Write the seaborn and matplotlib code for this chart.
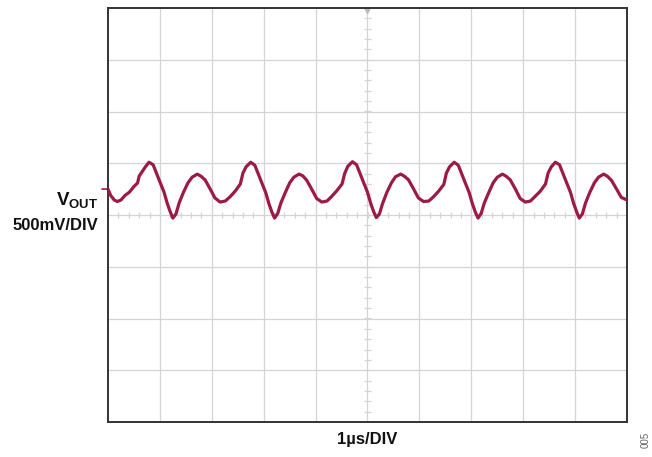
import numpy as np
import pandas as pd
import matplotlib
matplotlib.use("Agg")
import matplotlib.pyplot as plt
import seaborn as sns

# scope trace: time in divisions (1us/DIV), level in divisions (500mV/DIV)
time_div = [
    0.00, 0.05, 0.12, 0.18, 0.25, 0.33, 0.41, 0.50, 0.57, 0.60, 0.66, 0.72,
    0.79, 0.87, 1.00, 1.08, 1.14, 1.20, 1.25, 1.31, 1.37, 1.45, 1.54, 1.62,
    1.72, 1.79, 1.87, 1.97, 2.06, 2.16, 2.26, 2.35, 2.45, 2.55, 2.60, 2.66,
    2.75, 2.83, 2.96, 3.04, 3.10, 3.16, 3.21, 3.27, 3.33, 3.41, 3.50, 3.58,
    3.68, 3.75, 3.83, 3.93, 4.02, 4.12, 4.22, 4.31, 4.41, 4.51, 4.56, 4.62,
    4.71, 4.79, 4.92, 5.00, 5.06, 5.12, 5.17, 5.23, 5.29, 5.37, 5.46, 5.54,
    5.64, 5.71, 5.79, 5.89, 5.98, 6.08, 6.18, 6.27, 6.37, 6.47, 6.52, 6.58,
    6.67, 6.75, 6.88, 6.96, 7.02, 7.08, 7.13, 7.19, 7.25, 7.33, 7.42, 7.50,
    7.60, 7.67, 7.75, 7.85, 7.94, 8.04, 8.14, 8.23, 8.33, 8.43, 8.48, 8.54,
    8.62, 8.70, 8.83, 8.91, 8.97, 9.03, 9.08, 9.14, 9.20, 9.28, 9.37, 9.45,
    9.55, 9.62, 9.70, 9.80, 9.89, 10.00,
]
vout_div = [
    0.50, 0.38, 0.29, 0.26, 0.29, 0.38, 0.44, 0.55, 0.62, 0.75, 0.84, 0.93,
    1.02, 0.97, 0.64, 0.44, 0.23, 0.06, -0.06, 0.02, 0.23, 0.43, 0.62, 0.73,
    0.79, 0.75, 0.68, 0.50, 0.33, 0.25, 0.27, 0.35, 0.46, 0.60, 0.81, 0.93,
    1.02, 0.96, 0.63, 0.43, 0.22, 0.05, -0.06, 0.03, 0.23, 0.42, 0.62, 0.73,
    0.79, 0.76, 0.67, 0.49, 0.32, 0.25, 0.27, 0.36, 0.47, 0.60, 0.80, 0.94,
    1.03, 0.97, 0.64, 0.44, 0.23, 0.06, -0.05, 0.02, 0.22, 0.43, 0.62, 0.74,
    0.79, 0.75, 0.68, 0.50, 0.33, 0.26, 0.27, 0.35, 0.46, 0.59, 0.81, 0.93,
    1.02, 0.96, 0.63, 0.43, 0.22, 0.05, -0.06, 0.03, 0.23, 0.42, 0.62, 0.73,
    0.79, 0.75, 0.68, 0.50, 0.32, 0.25, 0.27, 0.36, 0.46, 0.60, 0.81, 0.93,
    1.02, 0.97, 0.64, 0.44, 0.23, 0.06, -0.06, 0.02, 0.23, 0.43, 0.62, 0.73,
    0.79, 0.75, 0.67, 0.50, 0.34, 0.29,
]
vout_marker = 0.5
x_label = "1\u00b5s/DIV"
y_label_top = r"$\mathbf{V_{OUT}}$"
y_label_bottom = "500mV/DIV"

df = pd.DataFrame({"t": time_div, "v": vout_div})

sns.set_style("white")
plt.rcParams["font.family"] = ["Liberation Sans", "DejaVu Sans"]
plt.rcParams["mathtext.fontset"] = "custom"
plt.rcParams["mathtext.bf"] = "Liberation Sans:bold"
plt.rcParams["mathtext.rm"] = "Liberation Sans"

trace = "#9c1b44"
gridc = "#d4d4d4"

fig = plt.figure(figsize=(6.52, 4.57), dpi=100)
ax = fig.add_axes([108 / 652, 35 / 457, 519 / 652, 414 / 457])

# screen grid, 10 x 8 divisions
for gx in range(1, 10):
    ax.axvline(gx, color=gridc, lw=0.9, zorder=1)
for gy in range(-3, 4):
    ax.axhline(gy, color=gridc, lw=0.9, zorder=1)

# minor ticks on the centre crosshair
mx = np.arange(0.2, 10, 0.2)
ax.vlines(mx, -0.06, 0.06, color=gridc, lw=0.9, zorder=1)
my = np.arange(-3.8, 4, 0.2)
ax.hlines(my, 4.94, 5.06, color=gridc, lw=0.9, zorder=1)
ax.plot([5], [3.96], marker="v", color="#bbbbbb", ms=5, zorder=2)

sns.lineplot(data=df, x="t", y="v", color=trace, linewidth=2.3, ax=ax, zorder=3)

# channel level marker left of the screen
ax.plot([-0.11, 0], [vout_marker, vout_marker], color=trace, lw=1.2, clip_on=False)

ax.set_xlim(0, 10)
ax.set_ylim(-4, 4)
ax.set_xticks([])
ax.set_yticks([])
ax.set_xlabel("")
ax.set_ylabel("")
for side in ["left", "right", "top", "bottom"]:
    ax.spines[side].set_color("#333333")
    ax.spines[side].set_linewidth(1.4)

fig.text(98 / 652, 1 - 205 / 457, y_label_top, ha="right", va="baseline",
         fontsize=13.5, fontweight="bold", color="#111111")
fig.text(98 / 652, 1 - 230 / 457, y_label_bottom, ha="right", va="baseline",
         fontsize=12, fontweight="bold", color="#111111")
fig.text(367 / 652, 1 - 444 / 457, x_label, ha="center", va="baseline",
         fontsize=12, fontweight="bold", color="#111111")
fig.text(646 / 652, 1 - 440 / 457, "005", ha="center", va="center",
         rotation=90, fontsize=7, color="#666666")

fig.savefig("out.png", dpi=100)
